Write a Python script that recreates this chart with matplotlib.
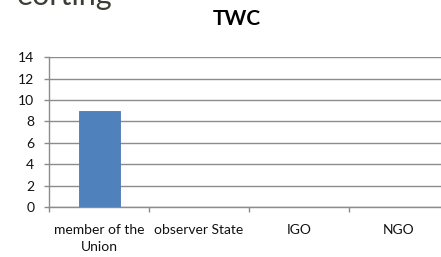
import numpy as np
import matplotlib.pyplot as plt

categories = ['member of the\nUnion', 'observer State', 'IGO', 'NGO']
values = [9, 0, 0, 0]
yticks = [0, 2, 4, 6, 8, 10, 12, 14]

plt.rcParams['font.family'] = ['Lato', 'DejaVu Sans']

fig = plt.figure(figsize=(4.41, 2.57), dpi=100)
W, H = 441.0, 257.0
ax = fig.add_axes([49 / W, (H - 207) / H, 400 / W, (207 - 57.3) / H])

x = np.arange(len(categories))
ax.bar(x, values, width=0.41, color='#4F81BD', edgecolor='#4A7AB3', linewidth=0.6, zorder=3)

ax.set_xlim(-0.5, 3.5)
ax.set_ylim(0, 14)
ax.set_yticks(yticks)
ax.set_yticklabels([str(v) for v in yticks], fontsize=10, color='#111111')
ax.set_xticks(x)
ax.set_xticklabels(categories, fontsize=10, color='#111111', linespacing=1.55)
ax.set_xticks(np.arange(-0.5, 3.6, 1.0), minor=True)
ax.tick_params(axis='x', which='major', length=0, pad=12)
ax.tick_params(axis='x', which='minor', length=3.6, width=1, color='#8c8c8c', direction='out')
ax.tick_params(axis='y', length=3.6, width=1, color='#8c8c8c', direction='out', pad=7)
ax.grid(axis='y', color='#8c8c8c', linewidth=1, zorder=0)
for s in ['top', 'right']:
    ax.spines[s].set_visible(False)
for s in ['left', 'bottom']:
    ax.spines[s].set_color('#8c8c8c')
    ax.spines[s].set_linewidth(1)

fig.text(237 / W, 1 - 19 / H, 'TWC', fontsize=15, fontweight='bold', ha='center', va='center', color='#000000')
fig.text(112 / W, 1 - 5 / H, 'eorting', fontsize=22, ha='right', va='baseline', color='#3d3d33')

fig.savefig('out.png', dpi=100)
